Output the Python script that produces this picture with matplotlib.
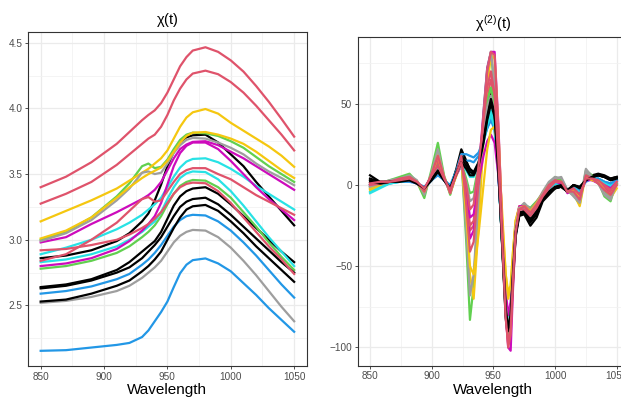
import matplotlib.pyplot as plt

plt.rcParams['font.family'] = ['Liberation Sans', 'DejaVu Sans']
plt.rcParams['mathtext.fontset'] = 'custom'
plt.rcParams['mathtext.rm'] = 'Liberation Sans'
plt.rcParams['mathtext.it'] = 'Liberation Sans'

# spectra
wavelength = [850, 870, 890, 910, 920, 930, 935, 940, 945, 950, 955,
              960, 965, 970, 980, 990, 1000, 1010, 1020, 1030, 1040, 1050]

chi_black_a = [2.86, 2.88, 2.92, 2.99, 3.05, 3.14, 3.20, 3.30, 3.42, 3.56, 3.67,
               3.745, 3.78, 3.795, 3.80, 3.74, 3.65, 3.56, 3.44, 3.33, 3.22, 3.11]
chi_red_a = [3.40, 3.48, 3.59, 3.73, 3.82, 3.91, 3.95, 3.985, 4.04, 4.12, 4.22,
             4.32, 4.39, 4.44, 4.465, 4.43, 4.365, 4.28, 4.17, 4.05, 3.92, 3.785]
chi_green_a = [3.00, 3.06, 3.17, 3.33, 3.43, 3.56, 3.58, 3.545, 3.555, 3.61, 3.69,
               3.76, 3.80, 3.815, 3.81, 3.79, 3.75, 3.70, 3.63, 3.56, 3.50, 3.44]
chi_blue_a = [2.59, 2.61, 2.645, 2.70, 2.74, 2.81, 2.85, 2.90, 2.96, 3.03, 3.10,
              3.15, 3.18, 3.19, 3.185, 3.14, 3.07, 2.98, 2.88, 2.77, 2.66, 2.56]
chi_cyan_a = [2.89, 2.94, 3.00, 3.08, 3.13, 3.19, 3.23, 3.27, 3.32, 3.40, 3.48,
              3.55, 3.595, 3.615, 3.62, 3.59, 3.54, 3.48, 3.41, 3.35, 3.29, 3.23]
chi_magenta_a = [2.98, 3.02, 3.12, 3.21, 3.26, 3.31, 3.34, 3.38, 3.44, 3.53, 3.62,
                 3.69, 3.725, 3.745, 3.75, 3.72, 3.67, 3.62, 3.56, 3.50, 3.44, 3.38]
chi_yellow_a = [3.14, 3.22, 3.30, 3.39, 3.45, 3.51, 3.54, 3.58, 3.62, 3.68, 3.77,
                3.86, 3.93, 3.97, 3.995, 3.96, 3.89, 3.83, 3.77, 3.71, 3.64, 3.555]
chi_gray_a = [2.99, 3.05, 3.15, 3.30, 3.39, 3.51, 3.52, 3.50, 3.51, 3.58, 3.66,
              3.72, 3.76, 3.775, 3.77, 3.74, 3.70, 3.65, 3.58, 3.52, 3.47, 3.415]
chi_black_b = [2.64, 2.66, 2.70, 2.77, 2.83, 2.91, 2.95, 2.99, 3.06, 3.16, 3.26,
               3.33, 3.37, 3.39, 3.40, 3.35, 3.27, 3.18, 3.09, 3.00, 2.91, 2.83]
chi_red_b = [3.275, 3.35, 3.44, 3.57, 3.65, 3.73, 3.77, 3.80, 3.86, 3.95, 4.06,
             4.15, 4.22, 4.265, 4.287, 4.26, 4.20, 4.12, 4.02, 3.91, 3.80, 3.68]
chi_green_b = [2.78, 2.80, 2.84, 2.90, 2.95, 3.02, 3.06, 3.11, 3.18, 3.27, 3.35,
               3.41, 3.44, 3.455, 3.45, 3.40, 3.32, 3.21, 3.10, 2.98, 2.87, 2.77]
chi_blue_b = [2.155, 2.16, 2.18, 2.20, 2.215, 2.26, 2.31, 2.38, 2.45, 2.53, 2.64,
              2.745, 2.81, 2.845, 2.858, 2.82, 2.76, 2.67, 2.58, 2.48, 2.39, 2.30]
chi_cyan_b = [2.83, 2.85, 2.89, 2.95, 3.00, 3.06, 3.10, 3.14, 3.21, 3.31, 3.40,
              3.47, 3.505, 3.52, 3.515, 3.46, 3.37, 3.26, 3.14, 3.02, 2.91, 2.80]
chi_magenta_b = [2.80, 2.82, 2.86, 2.93, 2.99, 3.07, 3.12, 3.18, 3.28, 3.42, 3.56,
                 3.66, 3.715, 3.74, 3.74, 3.69, 3.60, 3.50, 3.40, 3.31, 3.23, 3.15]
chi_yellow_b = [3.01, 3.07, 3.17, 3.32, 3.40, 3.47, 3.50, 3.525, 3.55, 3.60, 3.67,
                3.74, 3.79, 3.815, 3.82, 3.80, 3.77, 3.73, 3.67, 3.60, 3.53, 3.47]
chi_gray_b = [2.52, 2.535, 2.565, 2.61, 2.65, 2.71, 2.75, 2.79, 2.84, 2.91, 2.98,
              3.03, 3.06, 3.075, 3.07, 3.02, 2.94, 2.84, 2.73, 2.61, 2.49, 2.38]
chi_black_c = [2.63, 2.65, 2.69, 2.75, 2.79, 2.86, 2.91, 2.96, 3.02, 3.10, 3.18,
               3.25, 3.29, 3.31, 3.32, 3.27, 3.19, 3.10, 3.01, 2.92, 2.83, 2.75]
chi_red_c = [2.84, 2.89, 3.00, 3.13, 3.22, 3.31, 3.325, 3.29, 3.30, 3.37, 3.44,
             3.50, 3.53, 3.545, 3.545, 3.50, 3.46, 3.40, 3.34, 3.29, 3.24, 3.19]
chi_black_d = [2.53, 2.545, 2.59, 2.65, 2.69, 2.76, 2.80, 2.85, 2.91, 3.00, 3.09,
               3.17, 3.23, 3.255, 3.265, 3.22, 3.14, 3.05, 2.95, 2.86, 2.77, 2.68]
chi_red_d = [2.92, 2.93, 2.96, 3.00, 3.04, 3.09, 3.12, 3.16, 3.21, 3.28, 3.35,
             3.40, 3.425, 3.435, 3.43, 3.37, 3.28, 3.17, 3.06, 2.95, 2.85, 2.74]

# second derivatives
wavelength_d2 = [850, 858, 866, 874, 882, 888, 894, 900, 905, 910, 915, 920, 924, 928, 931,
                 934, 938, 942, 945, 948, 951, 954, 957, 960, 962, 964, 966, 968, 971, 975,
                 980, 985, 990, 995, 1000, 1005, 1010, 1015, 1020, 1025, 1030, 1035, 1040, 1045, 1050]

d2_black_a = [6, 2, 2, 3, 3, 1, -2, 5, 12, 4, -2, 10, 22, 15, 9,
              6, 13, 30, 45, 57, 48, 12, -36, -82, -95, -86, -58, -32, -19, -18,
              -25, -20, -10, -6, -2, -1, -4, 0, -2, 3, 6, 7, 6, 4, 5]
d2_red_a = [0, 1, 2, 3, 4, 2, -3, 6, 15, 4, -4, 7, 16, -5, -28,
            -25, 5, 35, 55, 65, 52, 15, -30, -75, -92, -82, -52, -27, -14, -13,
            -17, -13, -6, -1, 3, 2, -4, -3, -8, 6, 4, 2, -2, -5, 0]
d2_green_a = [-1, 1, 3, 5, 7, 2, -8, 10, 26, 6, -6, 8, 18, -35, -83,
              -62, -6, 45, 72, 82, 58, 15, -35, -78, -90, -80, -50, -26, -14, -12,
              -14, -10, -5, 1, 5, 3, -4, -6, -12, 9, 6, 2, -7, -10, 3]
d2_blue_a = [-1, 1, 2, 2, 3, 1, -2, 3, 8, 3, -1, 8, 15, 15, 15,
             14, 18, 27, 35, 41, 35, 8, -34, -75, -89, -80, -52, -27, -14, -15,
             -19, -14, -7, -2, 1, 1, -3, -1, -3, 3, 4, 4, 2, 1, 3]
d2_cyan_a = [-4, -1, 1, 2, 3, 1, -2, 4, 10, 3, -2, 8, 15, 11, 8,
             7, 14, 28, 39, 46, 38, 8, -34, -75, -89, -80, -52, -27, -14, -15,
             -19, -14, -7, -2, 1, 1, -4, -1, -4, 3, 4, 4, 2, 0, 3]
d2_magenta_a = [0, 1, 2, 3, 4, 2, -3, 6, 16, 4, -4, 7, 16, -8, -33,
                -28, 8, 45, 72, 82, 82, 38, -22, -80, -100, -102, -62, -30, -15, -14,
                -18, -13, -6, -1, 2, 2, -5, -3, -8, 5, 3, 1, -2, -4, 1]
d2_yellow_a = [-3, 0, 2, 3, 5, 2, -5, 7, 20, 5, -5, 6, 17, -20, -55,
               -70, -25, 28, 60, 80, 78, 35, -20, -55, -66, -62, -40, -22, -13, -14,
               -17, -12, -6, 0, 3, 3, -4, -5, -13, 7, 4, 1, -4, -8, -2]
d2_gray_a = [-2, 1, 3, 4, 6, 3, -6, 8, 22, 5, -5, 7, 17, -28, -68,
             -55, -8, 42, 70, 82, 62, 18, -32, -80, -95, -84, -52, -27, -14, -11,
             -15, -11, -4, 2, 5, 4, -3, -7, -11, 10, 5, 1, -6, -9, 1]
d2_black_b = [4, 2, 2, 3, 3, 1, -2, 4, 10, 3, -2, 9, 18, 14, 10,
              8, 14, 28, 42, 52, 44, 10, -35, -80, -92, -84, -56, -31, -18, -17,
              -23, -18, -9, -5, -2, -1, -4, 0, -2, 3, 5, 6, 5, 3, 4]
d2_red_b = [1, 2, 2, 3, 4, 1, -3, 5, 14, 4, -3, 7, 15, -4, -25,
            -22, 6, 33, 52, 60, 48, 12, -30, -72, -88, -78, -50, -26, -14, -13,
            -16, -12, -6, -1, 2, 2, -4, -2, -7, 5, 4, 2, -1, -4, 1]
d2_green_b = [0, 1, 2, 3, 5, 2, -3, 5, 12, 4, -3, 8, 14, 4, -5,
              -4, 12, 35, 52, 60, 48, 12, -32, -78, -93, -82, -54, -28, -15, -14,
              -18, -13, -6, -1, 3, 3, -4, -4, -9, 7, 5, 2, -4, -7, 1]
d2_blue_b = [0, 1, 1, 2, 2, 1, -1, 3, 6, 3, 0, 9, 19, 19, 18,
             17, 20, 28, 35, 40, 34, 7, -32, -72, -85, -77, -50, -26, -14, -15,
             -18, -13, -7, -2, 1, 1, -3, -1, -3, 2, 4, 4, 2, 1, 3]
d2_cyan_b = [-5, -2, 1, 2, 3, 1, -2, 4, 9, 3, -2, 7, 14, 9, 5,
             5, 12, 26, 37, 43, 36, 7, -33, -72, -86, -78, -50, -26, -14, -15,
             -18, -13, -7, -2, 1, 1, -4, -1, -5, 3, 4, 3, 1, -1, 2]
d2_magenta_b = [0, 1, 2, 3, 3, 1, -2, 5, 10, 3, -3, 6, 12, -2, -20,
                -18, 2, 18, 27, 31, 26, 6, -28, -65, -80, -72, -46, -24, -13, -13,
                -16, -11, -5, -1, 2, 1, -4, -2, -6, 3, 3, 2, 0, -2, 2]
d2_yellow_b = [-2, 1, 2, 3, 4, 2, -4, 6, 18, 4, -4, 6, 15, -18, -50,
               -55, -30, 0, 22, 34, 36, 20, -15, -55, -70, -62, -40, -22, -14, -13,
               -16, -11, -5, 0, 2, 2, -4, -3, -8, 5, 3, 2, -3, -6, 0]
d2_gray_b = [-1, 1, 2, 3, 4, 2, -3, 5, 10, 3, -3, 7, 12, 2, -10,
             -8, 10, 32, 48, 55, 44, 10, -30, -74, -88, -78, -50, -26, -14, -14,
             -17, -12, -5, 0, 4, 5, -3, -5, -10, 8, 5, 1, -5, -8, 2]
d2_black_c = [3, 1, 2, 3, 3, 1, -2, 4, 9, 3, -2, 8, 16, 12, 8,
              7, 13, 28, 42, 53, 44, 10, -34, -78, -90, -82, -55, -30, -17, -16,
              -22, -17, -9, -5, -2, -1, -4, 0, -2, 3, 5, 6, 5, 3, 4]
d2_red_c = [0, 1, 2, 4, 5, 2, -4, 7, 18, 5, -5, 7, 18, -12, -41,
            -35, 2, 42, 70, 82, 80, 35, -22, -78, -100, -92, -60, -30, -15, -13,
            -17, -12, -6, 0, 3, 2, -4, -4, -9, 6, 4, 1, -3, -6, 0]
d2_black_d = [2, 1, 2, 2, 3, 1, -2, 3, 8, 3, -2, 7, 14, 10, 6,
              6, 12, 26, 40, 50, 42, 9, -34, -76, -88, -80, -53, -29, -17, -16,
              -21, -16, -8, -4, -1, 0, -3, 0, -1, 3, 5, 6, 5, 4, 5]
d2_red_d = [1, 2, 2, 3, 4, 2, -2, 6, 12, 4, -3, 7, 14, 0, -15,
            -12, 12, 40, 60, 70, 56, 16, -32, -82, -98, -88, -56, -29, -15, -15,
            -19, -14, -7, -2, 2, 2, -4, -2, -6, 4, 4, 3, 0, -3, 2]

# R default palette
black = '#000000'
red = '#DF536B'
green = '#61D04F'
blue = '#2297E6'
cyan = '#28E2E5'
magenta = '#CD0BBC'
yellow = '#F5C710'
gray = '#9E9E9E'

samples = [
    (black, chi_black_a, d2_black_a), (red, chi_red_a, d2_red_a),
    (green, chi_green_a, d2_green_a), (blue, chi_blue_a, d2_blue_a),
    (cyan, chi_cyan_a, d2_cyan_a), (magenta, chi_magenta_a, d2_magenta_a),
    (yellow, chi_yellow_a, d2_yellow_a), (gray, chi_gray_a, d2_gray_a),
    (black, chi_black_b, d2_black_b), (red, chi_red_b, d2_red_b),
    (green, chi_green_b, d2_green_b), (blue, chi_blue_b, d2_blue_b),
    (cyan, chi_cyan_b, d2_cyan_b), (magenta, chi_magenta_b, d2_magenta_b),
    (yellow, chi_yellow_b, d2_yellow_b), (gray, chi_gray_b, d2_gray_b),
    (black, chi_black_c, d2_black_c), (red, chi_red_c, d2_red_c),
    (black, chi_black_d, d2_black_d), (red, chi_red_d, d2_red_d),
]


def style_axis(ax, title, yticks, yminor, ylabels):
    ax.set_xticks([850, 900, 950, 1000, 1050])
    ax.set_xticks([875, 925, 975, 1025], minor=True)
    ax.set_yticks(yticks)
    ax.set_yticklabels(ylabels)
    ax.set_yticks(yminor, minor=True)
    ax.grid(which='major', color='#EBEBEB', lw=0.9)
    ax.grid(which='minor', color='#F2F2F2', lw=0.6)
    ax.set_axisbelow(True)
    ax.tick_params(which='minor', length=0)
    ax.tick_params(which='major', length=2.5, width=0.6, color='#333333',
                   labelsize=7.2, labelcolor='#4D4D4D', pad=1.5)
    for s in ax.spines.values():
        s.set_color('#333333')
        s.set_linewidth(0.8)
    ax.set_xlabel('Wavelength', fontsize=11, labelpad=1)
    ax.set_title(title, fontsize=10.5, pad=6)
    ax.margins(x=0.05, y=0.05)


fig = plt.figure(figsize=(6.21, 3.98), dpi=100)
ax1 = fig.add_axes([0.0451, 0.0804, 0.449, 0.839])
ax2 = fig.add_axes([0.576, 0.0812, 0.437, 0.826])

for color, chi, d2 in samples:
    ax1.plot(wavelength, chi, color=color, lw=1.6)
    ax2.plot(wavelength_d2, d2, color=color, lw=1.6)

style_axis(ax1, r'$\chi(t)$', [2.5, 3.0, 3.5, 4.0, 4.5],
           [2.25, 2.75, 3.25, 3.75, 4.25], ['2.5', '3.0', '3.5', '4.0', '4.5'])
style_axis(ax2, r'$\chi^{(2)}(t)$', [-100, -50, 0, 50],
           [-75, -25, 25, 75], ['\u2212100', '\u221250', '0', '50'])

fig.savefig('out.png', dpi=100)
